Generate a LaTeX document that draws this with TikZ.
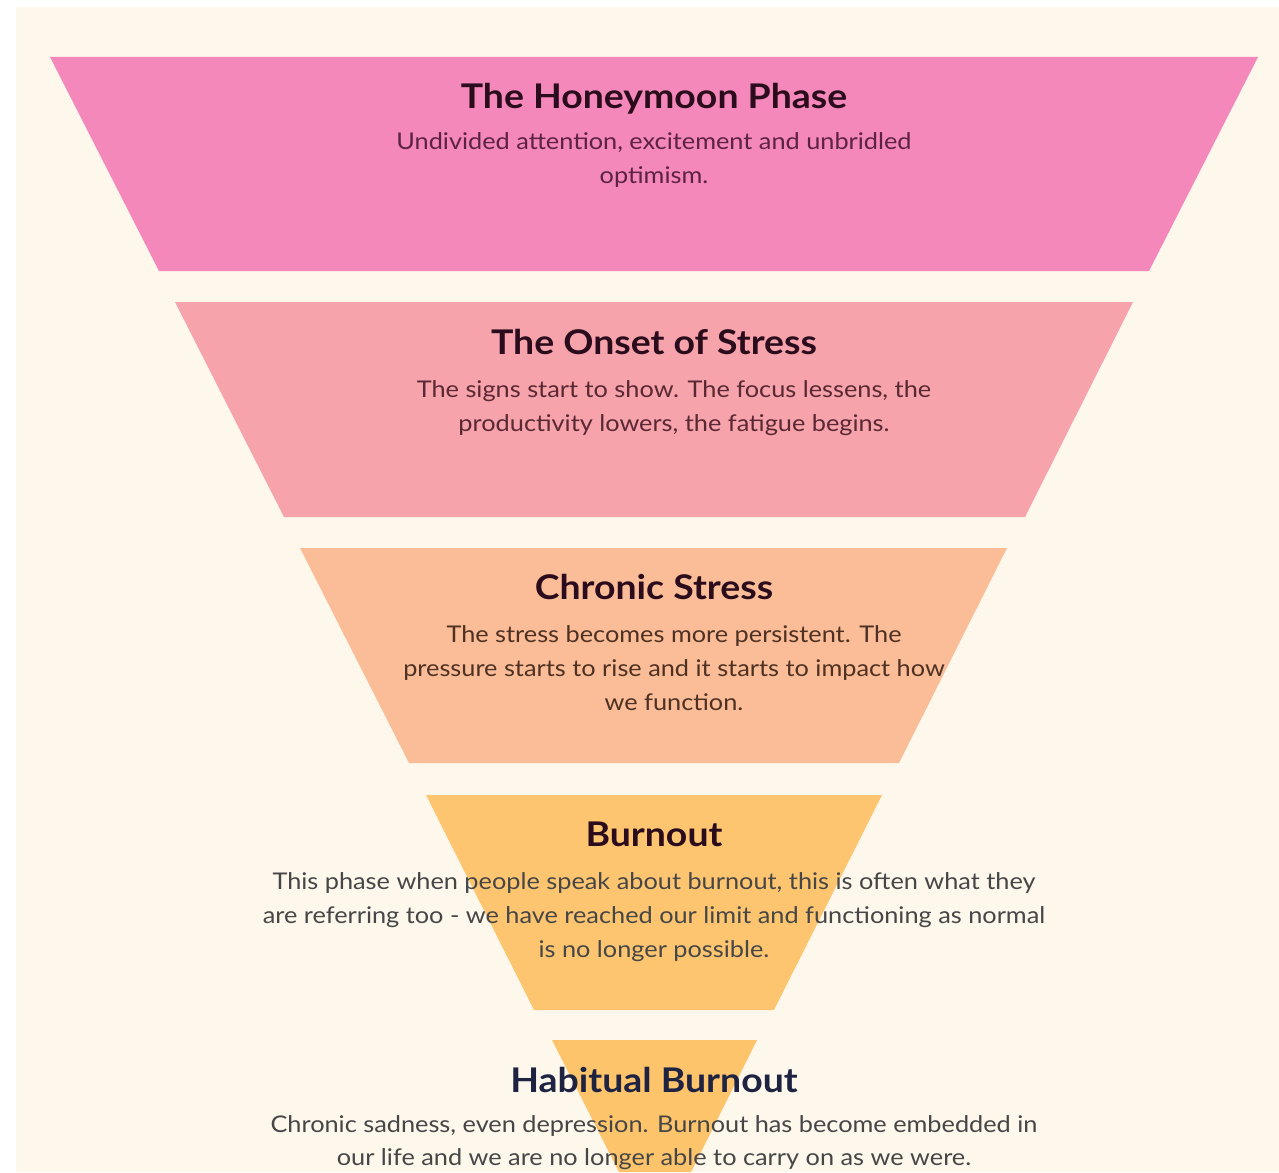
\documentclass[tikz,border=0pt]{standalone}
\usepackage{fontspec}
\setmainfont{Lato}[FakeStretch=1.1]
\usetikzlibrary{positioning}
\definecolor{paper}{HTML}{FEF7EC}
\definecolor{honeypink}{HTML}{F588BA}
\definecolor{onsetpink}{HTML}{F6A3AC}
\definecolor{chronicpeach}{HTML}{FBBD98}
\definecolor{burnorange}{HTML}{FDC570}
\definecolor{habitorange}{HTML}{FDC46C}
\definecolor{darktitle}{HTML}{2A0C1C}
\definecolor{navytitle}{HTML}{1E2342}
\definecolor{honeytext}{HTML}{5C2244}
\definecolor{onsettext}{HTML}{5A2832}
\definecolor{chronictext}{HTML}{4E3122}
\definecolor{graytext}{HTML}{464646}

\begin{document}
\begin{tikzpicture}[x=1pt, y=-1pt, title/.style={font=\bfseries\fontsize{34}{40}\selectfont, inner sep=0pt, text=darktitle}, desc/.style={font=\fontsize{23}{34}\selectfont, align=center, inner sep=0pt, anchor=north}]
\useasboundingbox (0,0) rectangle (1279,1172);
\fill [white] (0,0) rectangle (1279,1172);
\fill [paper] (16,7) rectangle (1279,1172);
% the five bands of the funnel
\fill [honeypink] (50,57) -- (1258,57) -- (1149,271) -- (159,271) -- cycle;
\fill [onsetpink] (175,302) -- (1133,302) -- (1025,517) -- (284,517) -- cycle;
\fill [chronicpeach] (300,548) -- (1007,548) -- (899,763) -- (409,763) -- cycle;
\fill [burnorange] (426,795) -- (882,795) -- (774,1010) -- (534,1010) -- cycle;
\fill [habitorange] (552,1040) -- (757,1040) -- (691,1172) -- (619,1172) -- cycle;
% texts
\node [title] (honeymoon) at (654,99) {The Honeymoon Phase};
\node [desc, text=honeytext] (honeymoondesc) at (654,132) {Undivided attention, excitement and unbridled\\optimism.};
\node [title] (onset) at (654,342) {The Onset of Stress};
\node [desc, text=onsettext] (onsetdesc) at (674,380) {The signs start to show. The focus lessens, the\\productivity lowers, the fatigue begins.};
\node [title] (chronic) at (654,587) {Chronic Stress};
\node [desc, text=chronictext] (chronicdesc) at (674,625) {The stress becomes more persistent. The\\pressure starts to rise and it starts to impact how\\we function.};
\node [title] (burnout) at (654,834) {Burnout};
\node [desc, text=graytext] (burnoutdesc) at (654,872) {This phase when people speak about burnout, this is often what they\\are referring too - we have reached our limit and functioning as normal\\is no longer possible.};
\node [title, text=navytitle] (habitual) at (654,1080) {Habitual Burnout};
\node [desc, text=graytext, font=\fontsize{23}{33}\selectfont] (habitualdesc) at (654,1115) {Chronic sadness, even depression. Burnout has become embedded in\\our life and we are no longer able to carry on as we were.};
\end{tikzpicture}
\end{document}
